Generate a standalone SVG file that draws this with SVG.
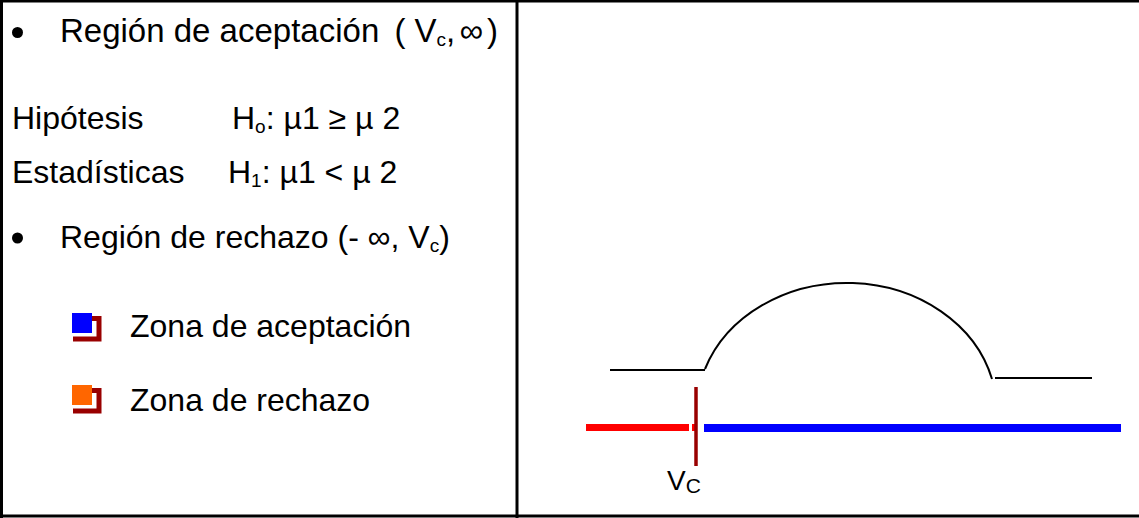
<svg xmlns="http://www.w3.org/2000/svg" width="1139" height="518" viewBox="0 0 1139 518">
<style>
text{font-family:"Liberation Sans",Arial,sans-serif;font-size:32px;fill:#000}
.big{font-size:33px}
.sub{font-size:19px}
.frame{stroke:#000;stroke-width:3;fill:none}
.curve{stroke:#000;stroke-width:2;fill:none}
.shadow{fill:none;stroke:#990000;stroke-width:5}
</style>
<rect x="0" y="0" width="1139" height="518" fill="#fff"/>
<g id="frame">
<line class="frame" x1="0" y1="1" x2="1139" y2="1"/>
<line class="frame" x1="0" y1="516" x2="1139" y2="516"/>
<line class="frame" x1="1.5" y1="0" x2="1.5" y2="518"/>
<line class="frame" x1="517" y1="0" x2="517" y2="518"/>
</g>
<g id="text-panel">
<circle cx="17.5" cy="32.5" r="5.5" fill="#000"/>
<text class="big" x="60" y="42">Región de aceptación<tspan dx="6"> ( V</tspan><tspan class="sub" dy="4">c</tspan><tspan dy="-4" style="word-spacing:-5px">, ∞ )</tspan></text>
<text x="12" y="129">Hipótesis</text>
<text x="232" y="129">H<tspan class="sub" dy="4">o</tspan><tspan dy="-4">: µ1 ≥ µ 2</tspan></text>
<text x="12" y="183">Estadísticas</text>
<text x="228" y="183">H<tspan class="sub" dy="4">1</tspan><tspan dy="-4">: µ1 &lt; µ 2</tspan></text>
<circle cx="17.5" cy="238" r="5.5" fill="#000"/>
<text x="60" y="248">Región de rechazo (- ∞, V<tspan class="sub" dy="4">c</tspan><tspan dy="-4">)</tspan></text>
</g>
<g id="legend-accept">
<path class="shadow" d="M75 318.5H99V339H73"/>
<rect x="72" y="313" width="20" height="20" fill="#0000ff"/>
<text x="130" y="337">Zona de aceptación</text>
</g>
<g id="legend-reject">
<path class="shadow" d="M75 390.5H99V411H73"/>
<rect x="72" y="385" width="20" height="20" fill="#ff6600"/>
<text x="130" y="411">Zona de rechazo</text>
</g>
<g id="curve">
<line class="curve" x1="610" y1="370" x2="705" y2="370"/>
<path class="curve" d="M705 369A150 128 0 0 1 992 379"/>
<line class="curve" x1="995" y1="378" x2="1092" y2="378"/>
</g>
<g id="axis">
<line x1="586" y1="427.5" x2="689" y2="427.5" stroke="#ff0000" stroke-width="7"/>
<line x1="692" y1="427.5" x2="697" y2="427.5" stroke="#ff0000" stroke-width="7"/>
<line x1="704" y1="428" x2="1121" y2="428" stroke="#0000ff" stroke-width="8"/>
<line x1="696" y1="387" x2="696" y2="466" stroke="#990000" stroke-width="3.5"/>
<text x="667" y="490" style="font-size:28px">V<tspan style="font-size:21px" dy="3">C</tspan></text>
</g>
</svg>
